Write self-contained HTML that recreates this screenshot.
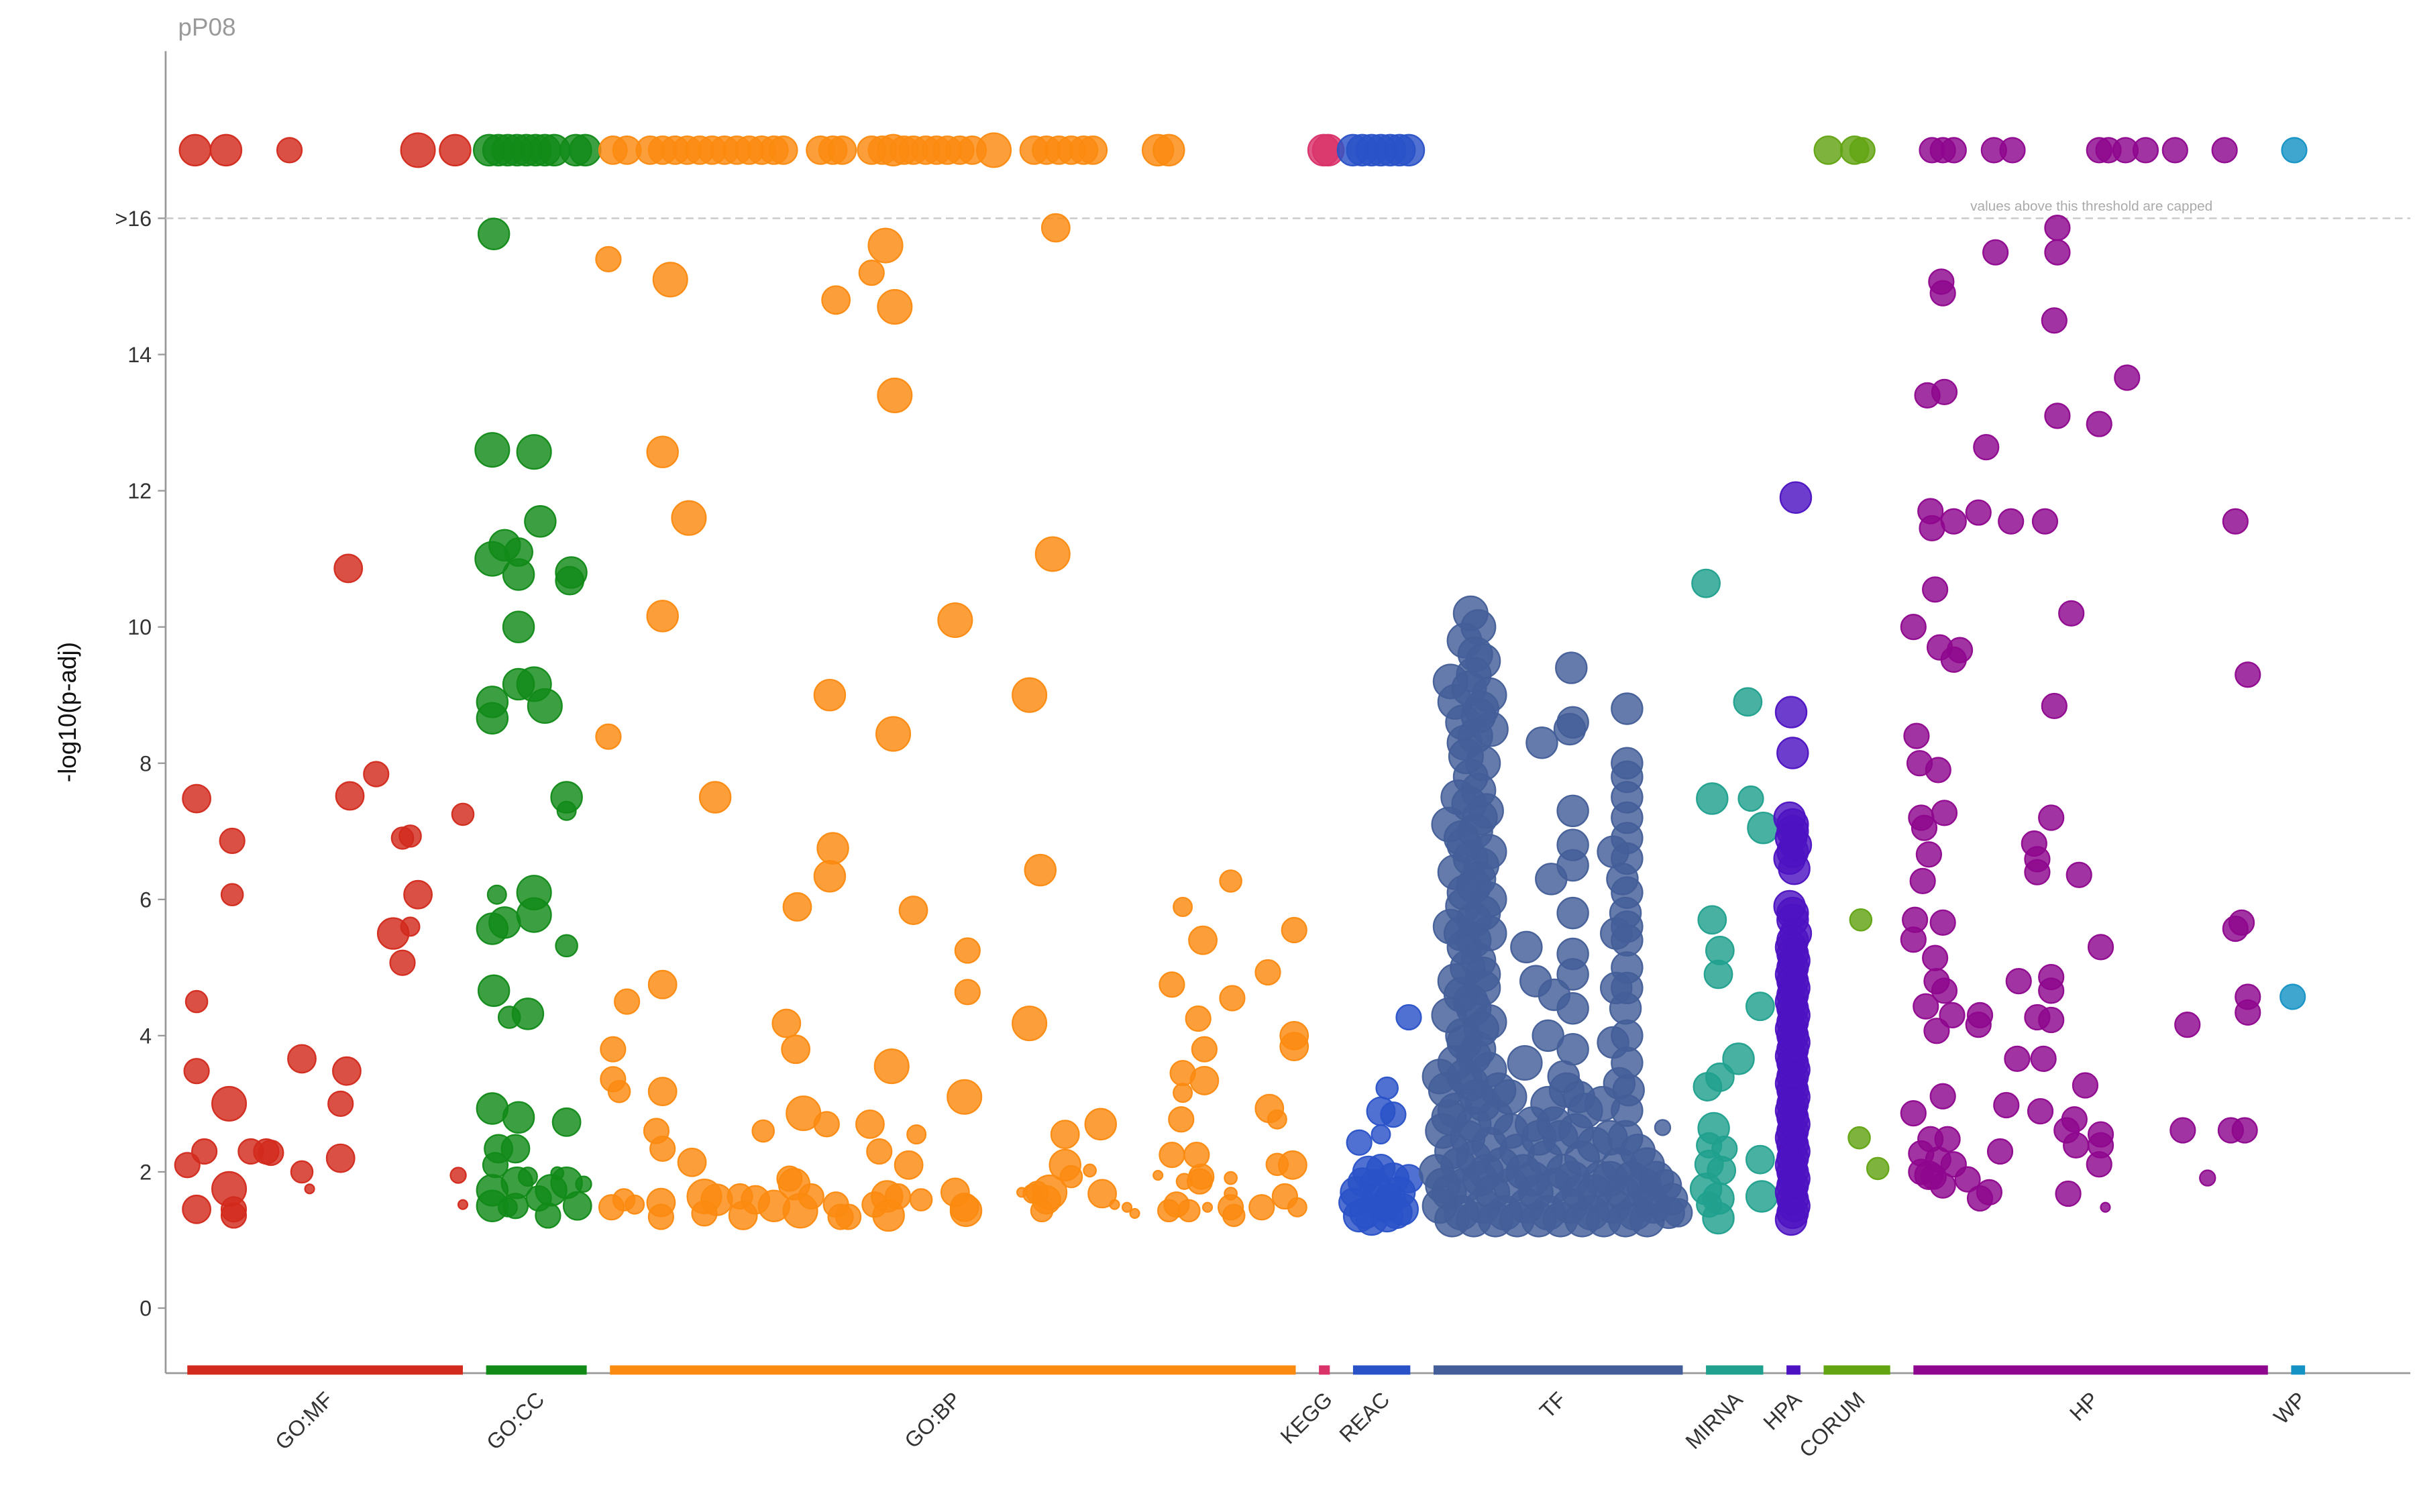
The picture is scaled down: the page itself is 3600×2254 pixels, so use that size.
<!DOCTYPE html>
<html><head><meta charset="utf-8">
<style>
html,body{margin:0;padding:0;background:#fff;}
svg{display:block;font-family:"Liberation Sans",sans-serif;}
</style></head>
<body>
<svg id="chart" width="3600" height="2254" viewBox="0 0 1560 976.7" xmlns="http://www.w3.org/2000/svg">
<text x="115" y="23" font-size="16" fill="#9a9a9a">pP08</text>
<g id="axes"></g>
<g id="points"></g>
</svg>
<script>
// ---- data ----
const categories=["GO:MF","GO:CC","GO:BP","KEGG","REAC","TF","MIRNA","HPA","CORUM","HP","WP"];
const catColors=["#d22a1c","#118a18","#fb8a10","#d9336a","#2a52c8","#435e98","#20a08e","#4d12c2","#62a412","#8e068e","#1592c4"];
const catStart=[121,314,394,852,874,926,1102,1154,1178,1236,1480];
const catEnd=[299,379,837,859,911,1087,1139,1163,1221,1465,1489];
const yTicks=[0,2,4,6,8,10,12,14];
const yTickLabels=["0","2","4","6","8","10","12","14"];
const capValue=16, capPlot=17;
// points: [term position, -log10(p-adj), size]
const goMF=[[126,17,10],[146,17,10],[187,17,8],[270,17,11],[294,17,10],[127,7.48,9],[150,6.86,8],[150,6.07,7],[127,4.5,7],[127,3.48,8],[132,2.3,8],[121,2.1,8],[127,1.45,9],[148,3.0,11],[148,1.75,11],[151,1.45,8],[151,1.36,8],[162,2.3,8],[172,2.3,8],[175,2.28,8],[195,3.66,9],[195,2.0,7],[200,1.75,3],[220,3.0,8],[220,2.2,9],[224,3.48,9],[225,10.86,9],[226,7.52,9],[243,7.84,8],[254,5.5,10],[260,6.9,7],[265,6.93,7],[265,5.6,6],[260,5.07,8],[270,6.07,9],[299,7.25,7],[296,1.95,5],[299,1.52,3]];
const goCC=[[316,17,10],[322,17,10],[328,17,10],[334,17,10],[340,17,10],[346,17,10],[352,17,10],[358,17,10],[372,17,10],[378,17,10],[319,15.77,10],[318,12.6,11],[345,12.57,11],[349,11.55,10],[318,11.0,11],[326,11.2,10],[335,11.1,9],[335,10.77,10],[369,10.8,10],[368,10.68,9],[335,10.0,10],[345,9.16,11],[335,9.16,10],[318,8.9,10],[352,8.84,11],[318,8.66,10],[366,7.5,10],[366,7.3,6],[321,6.07,6],[345,6.1,11],[345,5.77,11],[326,5.66,10],[318,5.57,10],[366,5.32,7],[319,4.66,10],[341,4.32,10],[329,4.27,7],[318,2.93,10],[335,2.8,10],[366,2.73,9],[322,2.34,9],[333,2.34,9],[320,2.1,8],[334,1.84,10],[318,1.73,10],[366,1.84,10],[356,1.73,10],[377,1.82,5],[360,1.98,4],[341,1.93,6],[318,1.5,10],[333,1.5,8],[354,1.36,8],[373,1.5,9],[348,1.61,8],[328,1.48,6]];
const goBP=[[396,17,9],[405,17,9],[420,17,9],[428,17,9],[436,17,9],[444,17,9],[452,17,9],[460,17,9],[468,17,9],[476,17,9],[484,17,9],[492,17,9],[500,17,9],[506,17,9],[530,17,9],[538,17,9],[544,17,9],[563,17,9],[570,17,9],[577,17,10],[584,17,9],[590,17,9],[598,17,9],[605,17,9],[612,17,9],[620,17,9],[628,17,9],[642,17,11],[668,17,9],[676,17,9],[684,17,9],[692,17,9],[700,17,9],[706,17,9],[748,17,10],[755,17,10],
[393,15.4,8],[433,15.1,11],[572,15.6,11],[563,15.2,8],[540,14.8,9],[578,14.7,11],[682,15.86,9],[578,13.4,11],[428,12.57,10],[445,11.6,11],[680,11.07,11],[428,10.16,10],[617,10.1,11],[536,9.0,10],[665,9.0,11],[393,8.39,8],[577,8.43,11],[462,7.5,10],[538,6.75,10],[536,6.34,10],[672,6.43,10],[515,5.89,9],[590,5.84,9],[625,5.25,8],[428,4.75,9],[405,4.5,8],[625,4.64,8],[665,4.18,11],[508,4.18,9],[396,3.8,8],[514,3.8,9],[576,3.55,11],[396,3.36,8],[400,3.18,7],[428,3.18,9],[623,3.1,11],[519,2.86,11],[534,2.7,8],[562,2.7,9],[493,2.6,7],[592,2.55,6],[688,2.55,9],[711,2.7,10],[424,2.6,8],[428,2.34,8],[568,2.3,8],[447,2.14,9],[587,2.1,9],[688,2.1,10],[510,1.9,8],[617,1.7,9],[667,1.68,6],[678,1.7,11],[712,1.68,9],[403,1.59,7],[395,1.48,8],[427,1.55,9],[455,1.64,11],[463,1.59,10],[478,1.64,8],[488,1.59,9],[500,1.5,10],[513,1.82,10],[517,1.43,11],[524,1.64,8],[540,1.52,8],[548,1.34,8],[565,1.52,8],[573,1.64,10],[574,1.36,10],[580,1.64,8],[595,1.59,7],[623,1.48,9],[624,1.43,10],[660,1.7,3],[670,1.7,7],[676,1.59,9],[704,2.02,4],[720,1.52,3],[728,1.48,3],[733,1.39,3],[748,1.95,3],[410,1.52,6],[427,1.34,8],[455,1.39,8],[480,1.36,9],[543,1.34,8],[692,1.93,7],[673,1.43,7],
[764,5.89,6],[795,6.27,7],[757,4.75,8],[777,5.4,9],[796,4.55,8],[819,4.93,8],[836,5.55,8],[774,4.25,8],[778,3.8,8],[764,3.45,8],[778,3.34,9],[764,3.16,6],[836,4.0,9],[836,3.84,9],[820,2.93,9],[763,2.77,8],[825,2.77,6],[757,2.25,8],[773,2.25,8],[835,2.1,9],[825,2.11,7],[776,1.93,8],[795,1.91,4],[765,1.86,5],[775,1.86,8],[795,1.68,4],[760,1.52,8],[780,1.48,3],[795,1.48,8],[815,1.48,8],[830,1.64,8],[838,1.48,6],[755,1.43,7],[768,1.43,7],[797,1.36,7]];
const kegg=[[855,17,10],[858,17,10]];
const reac=[[874,17,10],[880,17,10],[886,17,10],[892,17,10],[898,17,10],[904,17,10],[910,17,10],[910,4.27,8],[896,3.23,7],[892,2.89,9],[900,2.84,8],[878,2.43,8],[892,2.55,6],
[876,1.7,10],[882,1.4,10],[888,1.8,10],[894,1.5,10],[900,1.9,10],[906,1.45,10],[884,2.0,10],[896,1.35,10],[904,1.7,10],[878,1.35,10],[890,1.6,10],[910,1.9,9],[886,1.3,10],[898,1.6,10],[874,1.55,9],[892,2.05,9],[902,1.4,10],[880,1.85,9]];
const tf=[[950,10.2,11],[955,10.0,11],[946,9.8,11],[958,9.5,11],[937,9.2,11],[952,9.3,11],[962,9.0,11],[940,8.9,11],[955,8.7,11],[963,8.5,11],[946,8.3,11],[958,8.0,11],[950,7.8,11],[942,7.5,11],[960,7.3,11],[936,7.1,11],[953,7.0,11],[946,6.8,11],[962,6.7,11],[940,6.4,11],[955,6.3,11],[962,6.0,11],[945,5.9,11],[952,5.7,11],[937,5.6,11],[962,5.5,11],[946,5.3,11],[955,5.1,11],[940,4.8,11],[958,4.7,11],[950,4.5,11],[936,4.3,11],[962,4.2,11],[945,4.0,11],[955,3.8,11],[940,3.6,11],[962,3.5,11],[930,3.4,11],[950,3.3,11],[958,3.0,11],[940,2.9,11],[968,3.2,11],[975,3.1,11],[985,3.6,11],[932,2.6,11],[948,2.5,11],[962,2.4,11],[976,2.6,11],[990,2.7,11],[1000,3.0,11],[1012,3.2,11],[1024,2.9,11],[1035,3.0,11],[928,2.0,11],[942,2.1,11],[956,1.9,11],[970,2.1,11],[984,2.0,11],[998,2.2,11],[1010,2.0,11],[1022,2.2,11],[1034,1.9,11],[1046,2.1,11],[1058,2.3,11],[1070,1.9,11],[930,1.5,11],[944,1.4,11],[958,1.5,11],[972,1.4,11],[986,1.5,11],[1000,1.4,11],[1014,1.5,11],[1028,1.4,11],[1042,1.5,11],[1056,1.4,11],[1068,1.5,11],[1080,1.6,10],[1078,1.4,10],[936,1.7,11],[964,1.7,11],[992,1.7,11],[1020,1.7,11],[1048,1.7,11],[1062,1.8,11],[1008,2.5,11],[1040,2.5,11],[1074,2.65,5],
[953,9.6,11],[949,9.1,11],[957,8.8,11],[945,8.6,11],[953,8.4,11],[947,8.1,11],[955,7.6,11],[949,7.4,11],[956,7.2,11],[944,6.9,11],[950,6.6,11],[957,6.5,11],[946,6.1,11],[952,6.2,11],[958,5.8,11],[944,5.5,11],[952,5.4,11],[948,5.0,11],[958,4.9,11],[944,4.6,11],[952,4.4,11],[957,4.1,11],[946,3.9,11],[952,3.7,11],[934,3.2,11],[946,3.4,11],[954,3.1,11],[936,2.8,11],[952,2.7,11],[966,2.8,11],[938,2.3,11],[952,2.2,11],[980,2.3,11],[994,2.5,11],[1004,2.7,11],[1018,2.6,11],[1030,2.4,11],[1050,2.5,11],[1064,2.1,11],[932,1.8,11],[946,1.8,11],[960,2.0,11],[976,1.8,11],[990,1.9,11],[1004,1.8,11],[1016,1.9,11],[1030,1.7,11],[1040,1.9,11],[1054,1.9,11],[1066,1.6,11],[1076,1.8,10],[938,1.3,11],[952,1.3,11],[966,1.3,11],[980,1.3,11],[994,1.3,11],[1008,1.3,11],[1022,1.3,11],[1036,1.3,11],[1050,1.3,11],[1064,1.3,11],[1084,1.4,9],
[1015,9.4,10],[1016,8.6,10],[1014,8.5,10],[996,8.3,10],[1016,7.3,10],[1016,6.8,10],[1002,6.3,10],[1016,6.5,10],[1016,5.8,10],[986,5.3,10],[1016,5.2,10],[1016,4.9,10],[992,4.8,10],[1004,4.6,10],[1016,4.4,10],[1000,4.0,10],[1016,3.8,10],[1010,3.4,10],[1020,3.1,10],
[1051,8.8,10],[1051,8.0,10],[1051,7.8,10],[1051,7.5,10],[1051,7.2,10],[1051,6.9,10],[1042,6.7,10],[1051,6.6,10],[1051,6.1,10],[1051,5.6,10],[1044,5.5,10],[1051,5.4,10],[1051,5.0,10],[1044,4.7,10],[1051,4.7,10],[1051,4.0,10],[1042,3.9,10],[1051,3.6,10],[1046,3.3,10],[1051,2.9,10],[1050,4.4,10],[1052,3.2,10],[1048,6.3,10],[1050,5.8,10]];
const mirna=[[1102,10.64,9],[1129,8.9,9],[1106,7.48,10],[1131,7.48,8],[1139,7.05,10],[1106,5.7,9],[1111,5.25,9],[1110,4.9,9],[1137,4.43,9],[1123,3.66,10],[1111,3.39,9],[1103,3.25,9],[1107,2.64,10],[1104,2.39,8],[1114,2.34,8],[1104,2.11,9],[1137,2.18,9],[1112,2.02,9],[1102,1.75,10],[1110,1.61,10],[1138,1.64,10],[1110,1.32,10],[1104,1.52,8]];
const hpa=[[1160,11.9,10],[1157,8.75,10],[1158,8.15,10],[1156,7.2,10],[1158,7.0,10],[1160,6.8,10],[1156,6.6,10],[1159,6.45,10],[1156,5.9,10],[1158,5.8,10],[1160,5.5,10],[1157,5.3,10],[1159,5.1,10],[1157,4.9,10],[1159,4.7,10],[1157,4.5,10],[1159,4.3,10],[1157,4.1,10],[1159,3.9,10],[1157,3.7,10],[1159,3.5,10],[1157,3.3,10],[1159,3.1,10],[1157,2.9,10],[1159,2.7,10],[1157,2.5,10],[1159,2.3,10],[1157,2.1,10],[1159,1.9,10],[1157,1.7,10],[1159,1.5,10],[1157,1.3,10],
[1158,7.1,10],[1157,6.9,10],[1158,6.7,10],[1158,5.7,10],[1158,5.4,10],[1158,5.2,10],[1158,5.0,10],[1158,4.8,10],[1158,4.6,10],[1158,4.4,10],[1158,4.2,10],[1158,4.0,10],[1158,3.8,10],[1158,3.6,10],[1158,3.4,10],[1158,3.2,10],[1158,3.0,10],[1158,2.8,10],[1158,2.6,10],[1158,2.4,10],[1158,2.2,10],[1158,2.0,10],[1158,1.8,10],[1158,1.6,10],[1158,1.4,10]];
const corum=[[1181,17,9],[1198,17,9],[1203,17,8],[1202,5.7,7],[1201,2.5,7],[1213,2.05,7]];
const hp=[[1248,17,8],[1255,17,8],[1262,17,8],[1288,17,8],[1300,17,8],[1356,17,8],[1362,17,8],[1373,17,8],[1386,17,8],[1405,17,8],[1437,17,8],[1329,15.86,8],[1289,15.5,8],[1329,15.5,8],[1254,15.07,8],[1255,14.9,8],[1327,14.5,8],[1374,13.66,8],[1256,13.45,8],[1245,13.4,8],[1283,12.64,8],[1329,13.1,8],[1356,12.98,8],[1247,11.7,8],[1278,11.68,8],[1262,11.55,8],[1299,11.55,8],[1321,11.55,8],[1248,11.45,8],[1444,11.55,8],[1250,10.55,8],[1338,10.2,8],[1236,10.0,8],[1253,9.7,8],[1266,9.66,8],[1262,9.52,8],[1452,9.3,8],[1327,8.84,8],[1238,8.4,8],[1240,8.0,8],[1252,7.9,8],[1256,7.27,8],[1325,7.2,8],[1241,7.2,8],[1243,7.05,8],[1314,6.82,8],[1246,6.66,8],[1316,6.59,8],[1316,6.4,8],[1343,6.36,8],[1242,6.27,8],[1237,5.7,8],[1255,5.66,8],[1448,5.66,8],[1444,5.57,8],[1250,5.14,8],[1357,5.3,8],[1236,5.41,8],[1251,4.8,8],[1325,4.86,8],[1304,4.8,8],[1325,4.66,8],[1256,4.66,8],[1452,4.57,8],[1244,4.43,8],[1452,4.34,8],[1261,4.3,8],[1279,4.3,8],[1316,4.27,8],[1325,4.23,8],[1413,4.16,8],[1251,4.07,8],[1278,4.16,8],[1303,3.66,8],[1320,3.66,8],[1347,3.27,8],[1255,3.11,8],[1296,2.98,8],[1236,2.86,8],[1318,2.89,8],[1340,2.77,8],[1335,2.61,8],[1357,2.55,8],[1410,2.61,8],[1441,2.61,8],[1450,2.61,8],[1247,2.48,8],[1258,2.48,8],[1341,2.39,8],[1292,2.3,8],[1357,2.39,8],[1356,2.11,8],[1241,2.27,8],[1252,2.18,8],[1262,2.11,8],[1241,2.0,8],[1249,1.93,8],[1255,1.8,8],[1271,1.89,8],[1285,1.7,8],[1279,1.61,8],[1336,1.68,8],[1426,1.91,5],[1360,1.48,3],[1246,1.95,9]];
const wp=[[1482,17,8],[1481,4.57,8]];
const series=[goMF,goCC,goBP,kegg,reac,tf,mirna,hpa,corum,hp,wp];

// ---- scales ----
const plotLeft=107, plotRight=1557, plotTop=33, plotBottom=887;
function xScale(t){return plotLeft+(t-107)*(plotRight-plotLeft)/(1557-107);}
function yScale(v){return 845-(v)*44;}
const NS="http://www.w3.org/2000/svg";
function mk(tag,attrs,parent){const e=document.createElementNS(NS,tag);for(const k in attrs)e.setAttribute(k,attrs[k]);parent.appendChild(e);return e;}
const axes=document.getElementById('axes');
const pts=document.getElementById('points');

let yl=mk('line',{x1:plotLeft,y1:plotTop,x2:plotLeft,y2:plotBottom,stroke:'#999','stroke-width':1.2},axes);


let xl=mk('line',{x1:plotLeft,y1:plotBottom,x2:plotRight,y2:plotBottom,stroke:'#999','stroke-width':1.2},axes);



yTicks.forEach((v,i)=>{
  const t=mk('line',{x1:plotLeft-5,x2:plotLeft,y1:yScale(v),y2:yScale(v),stroke:'#999','stroke-width':1},axes);
  
  
  const tx=mk('text',{x:plotLeft-9,y:yScale(v)+5,'text-anchor':'end','font-size':14,fill:'#333'},axes);
  tx.textContent=yTickLabels[i];
  
  
});
const ct=mk('line',{x1:plotLeft-5,x2:plotLeft,y1:yScale(capValue),y2:yScale(capValue),stroke:'#999','stroke-width':1},axes);


const ctl=mk('text',{x:plotLeft-9,y:yScale(capValue)+5,'text-anchor':'end','font-size':14,fill:'#333'},axes);
ctl.textContent='>16';


const cl=mk('line',{x1:plotLeft,x2:plotRight,y1:yScale(capValue),y2:yScale(capValue),stroke:'#c8c8c8','stroke-width':1,'stroke-dasharray':'5,3'},axes);


const cn=mk('text',{x:1351,y:yScale(capValue)-5,'text-anchor':'middle','font-size':9,fill:'#aaa'},axes);
cn.textContent='values above this threshold are capped';


const yt=mk('text',{x:0,y:0,'text-anchor':'middle','font-size':16,fill:'#111',transform:'translate(49,460) rotate(-90)'},axes);
yt.textContent='-log10(p-adj)';



categories.forEach((c,i)=>{
  const b=mk('rect',{x:xScale(catStart[i]),y:882,width:xScale(catEnd[i])-xScale(catStart[i]),height:6,fill:catColors[i]},axes);
  
  
  const cx=(xScale(catStart[i])+xScale(catEnd[i]))/2+6;
  const l=mk('text',{x:0,y:0,'text-anchor':'end','font-size':14,fill:'#333',transform:'translate('+cx+',905) rotate(-45)'},axes);
  l.textContent=c;
  
  
});

series.forEach((s,i)=>{
  const g=mk('g',{},pts);
  
  
  s.forEach(p=>{
    const c=mk('circle',{cx:xScale(p[0]),cy:yScale(p[1]),r:p[2],fill:catColors[i],'fill-opacity':0.82,stroke:catColors[i],'stroke-opacity':0.95,'stroke-width':1},g);
    
    
  });
});
</script>
</body></html>
